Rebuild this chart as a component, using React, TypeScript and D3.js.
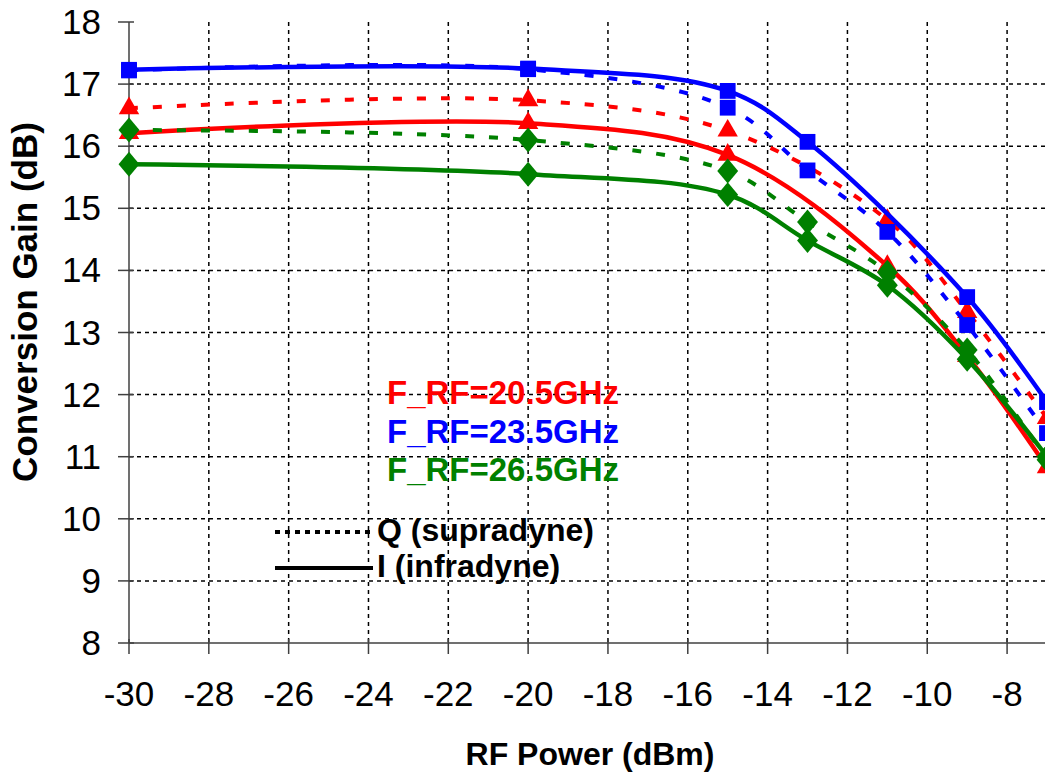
import React, { useRef, useEffect } from 'react';
import * as d3 from 'd3';

// RF power points (dBm)
const xBlueI = [-30, -20, -15, -13, -9, -7];
const xFull = [-30, -20, -15, -13, -11, -9, -7];
const xRed = [-30, -20, -15, -11, -9, -7];

// conversion gain (dB)
const blueI = [17.23, 17.25, 16.89, 16.07, 13.57, 11.88];
const blueQ = [17.22, 17.24, 16.62, 15.61, 14.62, 13.12, 11.38];
const redI = [16.21, 16.37, 15.86, 14.07, 12.62, 10.83];
const redQ = [16.61, 16.74, 16.25, 14.81, 13.33, 11.62];
const greenI = [15.71, 15.55, 15.22, 14.48, 13.76, 12.57, 11.0];
const greenQ = [16.26, 16.1, 15.6, 14.78, 13.97, 12.72, 10.95];

const xTicks = [-30, -28, -26, -24, -22, -20, -18, -16, -14, -12, -10, -8];
const yTicks = [8, 9, 10, 11, 12, 13, 14, 15, 16, 17, 18];

const freqLabels = ['F_RF=20.5GHz', 'F_RF=23.5GHz', 'F_RF=26.5GHz'];
const freqColors = ['#ff0000', '#0000ff', '#008000'];
const modeLabels = ['Q (supradyne)', 'I (infradyne)'];

const series = [
  { xs: xRed, ys: redQ, color: '#ff0000', marker: 'tri', dotted: true },
  { xs: xRed, ys: redI, color: '#ff0000', marker: 'tri', dotted: false },
  { xs: xFull, ys: blueQ, color: '#0000ff', marker: 'sq', dotted: true },
  { xs: xBlueI, ys: blueI, color: '#0000ff', marker: 'sq', dotted: false },
  { xs: xFull, ys: greenQ, color: '#008000', marker: 'dia', dotted: true },
  { xs: xFull, ys: greenI, color: '#008000', marker: 'dia', dotted: false },
];

const W = 1045;
const H = 774;
const FONT = 'Liberation Sans, Arial, sans-serif';

const App = () => {
  const svgRef = useRef(null);

  useEffect(() => {
    const x = d3.scaleLinear().domain([-30, -7]).range([129, 1047]);
    const y = d3.scaleLinear().domain([8, 18]).range([643, 22]);

    const svg = d3.select(svgRef.current).html('');
    svg.append('rect').attr('width', W).attr('height', H).attr('fill', '#fff');

    // grid
    const grid = svg.append('g').attr('stroke', '#000').attr('stroke-width', 1.5)
      .attr('stroke-dasharray', '4 4');
    yTicks.filter(t => t > 8 && t < 18).forEach(t => {
      grid.append('line').attr('x1', x(-30)).attr('x2', W).attr('y1', y(t)).attr('y2', y(t));
    });
    xTicks.filter(t => t > -30).forEach(t => {
      grid.append('line').attr('x1', x(t)).attr('x2', x(t)).attr('y1', y(18)).attr('y2', y(8));
    });

    // axes
    const ax = svg.append('g').attr('stroke', '#404040').attr('stroke-width', 1.5);
    ax.append('line').attr('x1', x(-30)).attr('x2', W).attr('y1', y(8)).attr('y2', y(8));
    ax.append('line').attr('x1', x(-30)).attr('x2', x(-30)).attr('y1', y(18)).attr('y2', y(8));
    yTicks.forEach(t => {
      ax.append('line').attr('x1', x(-30) - 11).attr('x2', x(-30) + 5).attr('y1', y(t)).attr('y2', y(t));
    });
    xTicks.forEach(t => {
      ax.append('line').attr('x1', x(t)).attr('x2', x(t)).attr('y1', y(8) - 4).attr('y2', y(8) + 11);
    });

    // tick labels
    svg.append('g').selectAll('text').data(yTicks).enter().append('text')
      .attr('x', 101).attr('y', d => y(d) + 12)
      .attr('text-anchor', 'end')
      .attr('font-family', FONT).attr('font-size', 35)
      .text(d => d);
    svg.append('g').selectAll('text').data(xTicks).enter().append('text')
      .attr('x', d => x(d)).attr('y', 706)
      .attr('text-anchor', 'middle')
      .attr('font-family', FONT).attr('font-size', 35)
      .text(d => d);

    // axis titles
    svg.append('text')
      .attr('x', 590).attr('y', 765)
      .attr('text-anchor', 'middle')
      .attr('font-family', FONT).attr('font-size', 32).attr('font-weight', 'bold')
      .text('RF Power (dBm)');
    svg.append('text')
      .attr('transform', 'translate(37,302) rotate(-90)')
      .attr('text-anchor', 'middle')
      .attr('font-family', FONT).attr('font-size', 35).attr('font-weight', 'bold')
      .text('Conversion Gain (dB)');

    // series
    const line = d3.line().curve(d3.curveCatmullRom.alpha(0.5));
    series.forEach(s => {
      const pts = s.xs.map((v, i) => [x(v), y(s.ys[i])]);
      svg.append('path')
        .attr('d', line(pts))
        .attr('fill', 'none')
        .attr('stroke', s.color)
        .attr('stroke-width', s.dotted ? 4 : 4.5)
        .attr('stroke-dasharray', s.dotted ? '9 15' : null);
      const sym = s.marker === 'sq' ? d3.symbolSquare : s.marker === 'tri' ? d3.symbolTriangle : d3.symbolDiamond;
      const size = s.marker === 'sq' ? 250 : 180;
      svg.append('g').selectAll('path').data(pts).enter().append('path')
        .attr('transform', d => `translate(${d[0]},${d[1]})` + (s.marker === 'dia' ? ' scale(1.45,1)' : ''))
        .attr('d', d3.symbol().type(sym).size(size)())
        .attr('fill', s.color);
    });

    // frequency legend
    freqLabels.forEach((t, i) => {
      svg.append('text')
        .attr('x', 387).attr('y', 404 + i * 38.5)
        .attr('font-family', FONT).attr('font-size', 33).attr('font-weight', 'bold')
        .attr('fill', freqColors[i])
        .text(t);
    });

    // mode legend
    svg.append('line').attr('x1', 275).attr('x2', 372).attr('y1', 532).attr('y2', 532)
      .attr('stroke', '#000').attr('stroke-width', 4).attr('stroke-dasharray', '5 5');
    svg.append('line').attr('x1', 275).attr('x2', 373).attr('y1', 568).attr('y2', 568)
      .attr('stroke', '#000').attr('stroke-width', 4);
    modeLabels.forEach((t, i) => {
      svg.append('text')
        .attr('x', 377).attr('y', 541 + i * 36)
        .attr('font-family', FONT).attr('font-size', 32).attr('font-weight', 'bold')
        .attr('fill', '#000')
        .text(t);
    });
  }, []);

  return (
    <svg ref={svgRef} width={W} height={H}
      style={{ position: 'absolute', left: 0, top: 0, display: 'block' }} />
  );
};

export default App;
